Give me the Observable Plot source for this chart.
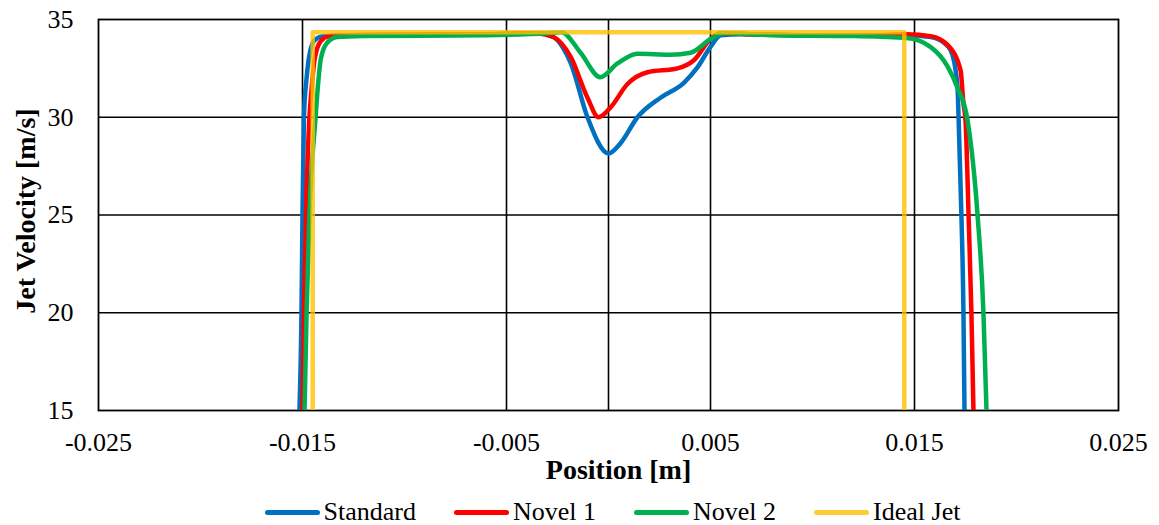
<!DOCTYPE html>
<html>
<head>
<meta charset="utf-8">
<script src="https://cdn.jsdelivr.net/npm/d3@7"></script>
<script src="https://cdn.jsdelivr.net/npm/@observablehq/plot@0.6"></script>
<style>
  html, body { margin: 0; padding: 0; background: #fff; }
  #chart { width: 1159px; }
  .legend { width: 1159px; height: 35px; box-sizing: border-box; padding-top: 9px; padding-left: 66px;
    display: flex; justify-content: center; align-items: center;
    font-family: "Liberation Serif", "Times New Roman", serif; font-size: 26px; color: #000; }
  .legend .item { display: flex; align-items: center; margin: 0 19px; }
  .legend .sw { width: 55px; height: 5px; border-radius: 3px; margin-right: 4px; }
</style>
</head>
<body>
<div id="chart"></div>
<script>
// ---- data ----
const seriesNames = ["Standard", "Novel 1", "Novel 2", "Ideal Jet"];

const standardX = [-0.01515, -0.01505, -0.01500, -0.01493, -0.01480, -0.01462, -0.01440, -0.01400, -0.01300, -0.0100, -0.0060, -0.0035, -0.0027, -0.0022, -0.00186, -0.00103, 0.0, 0.00059, 0.00142, 0.00255, 0.00368, 0.00436, 0.0050, 0.0055, 0.0065, 0.0100, 0.0130, 0.0146, 0.0158, 0.01662, 0.01686, 0.01711, 0.01716, 0.01730, 0.01740, 0.01745];
const standardV = [15, 20, 25, 30, 32.0, 33.4, 33.95, 34.15, 34.2, 34.22, 34.25, 34.3, 34.1, 33.5, 32.8, 30.0, 28.15, 28.67, 30.0, 31.0, 31.75, 32.55, 33.6, 34.2, 34.25, 34.2, 34.2, 34.2, 34.1, 33.65, 33.2, 31.5, 30.0, 25, 20, 15];

const novel1X = [-0.01500, -0.01493, -0.01483, -0.01466, -0.01455, -0.01440, -0.01410, -0.01370, -0.01300, -0.0100, -0.0060, -0.0035, -0.0027, -0.00186, -0.00103, -0.00049, 0.0001, 0.00093, 0.00191, 0.00338, 0.00417, 0.0050, 0.0055, 0.0070, 0.0100, 0.0130, 0.0146, 0.0158, 0.01662, 0.01726, 0.01740, 0.01750, 0.01765, 0.01779, 0.01789];
const novel1V = [15, 20, 25, 30, 31.5, 33.0, 33.9, 34.15, 34.2, 34.22, 34.25, 34.3, 34.1, 33.1, 31.0, 30.0, 30.5, 31.7, 32.3, 32.5, 32.9, 34.0, 34.3, 34.25, 34.2, 34.2, 34.25, 34.15, 33.7, 32.4, 30.7, 29.85, 25, 20, 15];

const novel2X = [-0.01490, -0.01480, -0.01466, -0.01436, -0.01426, -0.01410, -0.01380, -0.01330, -0.0120, -0.0060, -0.0030, -0.0023, -0.00137, -0.0004, 0.00044, 0.00142, 0.00304, 0.00402, 0.0050, 0.00564, 0.0080, 0.0120, 0.0146, 0.01578, 0.01662, 0.01711, 0.01760, 0.01809, 0.01838, 0.01853];
const novel2V = [15, 20, 25, 30, 31.4, 33.0, 33.8, 34.1, 34.15, 34.2, 34.3, 34.35, 33.3, 32.05, 32.75, 33.25, 33.2, 33.3, 34.0, 34.3, 34.2, 34.15, 34.05, 33.6, 32.6, 31.5, 29.85, 25, 20, 15];

const idealX = [-0.0145, -0.0145, 0.0145, 0.0145];
const idealV = [15, 34.35, 34.35, 15];

const xTicks = [-0.025, -0.015, -0.005, 0.005, 0.015, 0.025];
const yTicks = [15, 20, 25, 30, 35];
const xGrid = [-0.015, -0.005, 0.005, 0.015];
const yGrid = [20, 25, 30];
const xAxisLine = [0];
const xLabel = "Position [m]";
const yLabel = "Jet Velocity [m/s]";

// ---- styles ----
const colors = ["#0070C0", "#FF0000", "#00B050", "#FFC000"];
const opac = [1, 1, 1, 0.8];

const rows = (xs, vs, s) => xs.map((x, i) => ({series: s, x, v: vs[i]}));
const tables = [
  rows(standardX, standardV, seriesNames[0]),
  rows(novel1X, novel1V, seriesNames[1]),
  rows(novel2X, novel2V, seriesNames[2]),
  rows(idealX, idealV, seriesNames[3])
];

const lineMarks = tables.map((t, i) => Plot.line(t, {
  x: "x", y: "v",
  stroke: colors[i], strokeOpacity: opac[i], strokeWidth: 4.5,
  curve: i === 3 ? "linear" : "monotone-x",
  strokeLinejoin: "round", strokeLinecap: "butt",
  clip: true
}));

const chart = Plot.plot({
  width: 1159,
  height: 490,
  marginLeft: 98,
  marginRight: 41,
  marginTop: 19,
  marginBottom: 80,
  style: {fontFamily: "'Liberation Serif', 'Times New Roman', serif", fontSize: "26px", background: "#fff", color: "#000"},
  x: {domain: [-0.025, 0.025]},
  y: {domain: [15, 35]},
  marks: [
    Plot.gridX(xGrid, {stroke: "#000", strokeOpacity: 1, strokeWidth: 1.6}),
    Plot.gridY(yGrid, {stroke: "#000", strokeOpacity: 1, strokeWidth: 1.6}),
    Plot.ruleX(xAxisLine, {stroke: "#000", strokeWidth: 1.6}),
    Plot.frame({stroke: "#000", strokeWidth: 1.8}),
    ...lineMarks,
    Plot.axisX(xTicks, {tickSize: 0, tickPadding: 22, fontSize: 26, tickFormat: d => String(d), label: null}),
    Plot.axisY(yTicks, {tickSize: 0, tickPadding: 25, fontSize: 26, tickFormat: d => String(d), label: null}),
    Plot.text([xLabel], {frameAnchor: "bottom", textAnchor: "middle", dx: 10, dy: 60, fontSize: 28, fontWeight: "bold", lineAnchor: "middle"}),
    Plot.text([yLabel], {frameAnchor: "left", textAnchor: "middle", rotate: -90, dx: -72, dy: -4, fontSize: 28, fontWeight: "bold", lineAnchor: "middle"})
  ]
});
document.getElementById("chart").appendChild(chart);

// legend below the chart
const legend = document.createElement("div");
legend.className = "legend";
seriesNames.forEach((name, i) => {
  const item = document.createElement("div");
  item.className = "item";
  const sw = document.createElement("div");
  sw.className = "sw";
  sw.style.background = colors[i];
  sw.style.opacity = opac[i];
  const tx = document.createElement("span");
  tx.textContent = name;
  item.appendChild(sw);
  item.appendChild(tx);
  legend.appendChild(item);
});
document.body.appendChild(legend);
</script>
</body>
</html>
